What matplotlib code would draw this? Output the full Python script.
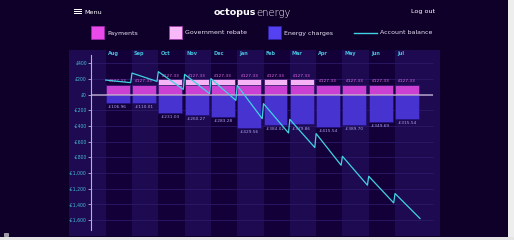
import matplotlib
matplotlib.use("Agg")
import matplotlib.pyplot as plt
from matplotlib.patches import Rectangle
from matplotlib.lines import Line2D

# data
months = ['Aug', 'Sep', 'Oct', 'Nov', 'Dec', 'Jan', 'Feb', 'Mar', 'Apr', 'May', 'Jun', 'Jul']
payments = [127.33] * 12
rebate = [0, 0, 66, 66, 66, 66, 66, 67, 0, 0, 0, 0]
charges = [-106.96, -110.01, -231.03, -260.27, -283.28, -429.56, -384.02, -379.86,
           -415.54, -389.70, -349.69, -315.54]
balance_open = [186, 275, 293, 259, 204, 118, -115, -315, -497, -786, -1041, -1261]
balance_close = [153, 169, 67, 13, -73, -306, -489, -675, -901, -1155, -1381, -1580]
yticks = [400, 200, 0, -200, -400, -600, -800, -1000, -1200, -1400, -1600]

BG = '#0f0029'
DARK = '#140039'
LIGHT = '#1d0a50'
C_PAY = '#c940d2'
C_REB = '#f6b4f6'
C_CHG = '#4633d0'
C_BAL = '#3fd2e2'
C_TEAL = '#45bcd8'

W, H = 514, 240
fig = plt.figure(figsize=(W / 100, H / 100), dpi=100, facecolor=BG)

def fx(px):
    return px / W

def fy(py):
    return 1 - py / H

# header
fig.text(fx(84), fy(12), 'Menu', color='white', fontsize=4.6, va='center', ha='left')
for k in range(3):
    fig.add_artist(Rectangle((fx(74), fy(10.2 + k * 1.8)), fx(7.5), 1.1 / H,
                             transform=fig.transFigure, color='white', lw=0))
fig.text(fx(256), fy(12.5), 'octopus', color='white', fontsize=6.8, fontweight='bold',
         va='center', ha='right')
fig.text(fx(256.5), fy(12.5), 'energy', color='white', fontsize=7.2, fontweight='light',
         va='center', ha='left')
fig.text(fx(435), fy(12), 'Log out', color='white', fontsize=4.6, va='center', ha='right')

# legend
leg = [('Payments', '#e94ae9', '#9a2aa8', 91),
       ('Government rebate', '#f9b9f9', '#a03ca8', 169),
       ('Energy charges', '#5442f2', '#3020a0', 268)]
for name, col, edge, x0 in leg:
    fig.add_artist(Rectangle((fx(x0), fy(39)), fx(13), 13 / H, transform=fig.transFigure,
                             facecolor=col, edgecolor=edge, lw=0.6))
    fig.text(fx(x0 + 16), fy(33), name, color='#e8e4f4', fontsize=4.5, va='center')
fig.add_artist(Line2D([fx(354), fx(377)], [fy(33), fy(33)], transform=fig.transFigure,
                      color=C_BAL, lw=1.0))
fig.text(fx(380), fy(33), 'Account balance', color='#e8e4f4', fontsize=4.5, va='center')

# chart panel
ax = fig.add_axes([fx(69), fy(236), fx(440 - 69), (236 - 50) / H])
ax.set_facecolor(LIGHT)
x_lo, x_hi = -1.395, 12.71
ax.set_xlim(x_lo, x_hi)
ax.set_ylim(-1803, 569.5)
for i in range(0, 12, 2):
    ax.axvspan(i, i + 1, color=DARK, lw=0, zorder=0)

ax_left = -0.559
ax_right = 12.44
ax.hlines(yticks, ax_left, ax_right, color='#2c1a6a', lw=0.6, zorder=1)

w = 0.91
xs = list(range(12))
ax.bar(xs, payments, width=w, align='edge', color=C_PAY, edgecolor='#3a1470', lw=0.5, zorder=2)
ax.bar(xs, rebate, width=w, bottom=payments, align='edge', color=C_REB, edgecolor='#3a1470',
       lw=0.5, zorder=2)
ax.bar(xs, charges, width=w, align='edge', color=C_CHG, edgecolor='#22107a', lw=0.5, zorder=2)

ax.hlines(0, ax_left, ax_right, color='#c8b8d8', alpha=0.75, lw=1.3, zorder=3)

for i in xs:
    top = payments[i] + rebate[i]
    ax.annotate('£%.2f' % payments[i], (i + w / 2, top), xytext=(0, 1.3),
                textcoords='offset points', ha='center', va='bottom', fontsize=3.1,
                color='#e46ae6', zorder=4)
    ax.annotate('-£%.2f' % -charges[i], (i + w / 2, charges[i]), xytext=(0, -1.5),
                textcoords='offset points', ha='center', va='top', fontsize=3.1,
                color='#aaa2ee', zorder=4)
    ax.text(i + 0.08, 520, months[i], color=C_TEAL, fontsize=3.6, fontweight='bold',
            ha='left', va='center', zorder=4)

# account balance line
bx, by = [], []
for i in xs:
    bx += [i, i + 0.95]
    by += [balance_open[i], balance_close[i]]
ax.plot(bx, by, color=C_BAL, lw=0.9, zorder=5)

# axis
for s in ['top', 'right', 'bottom']:
    ax.spines[s].set_visible(False)
ax.spines['left'].set_position(('data', ax_left))
ax.spines['left'].set_bounds(-1726, 502)
ax.spines['left'].set_color('#b8b0d8')
ax.spines['left'].set_linewidth(0.8)
ax.set_xticks([])
ax.set_yticks(yticks)
ax.set_yticklabels([('-£' if v < 0 else '£') + format(abs(v), ',') for v in yticks])
ax.tick_params(axis='y', colors='#b8b0d8', labelcolor=C_TEAL, length=2, width=0.6,
               labelsize=3.3, pad=1)

# browser bits
fig.add_artist(Rectangle((fx(508), 0), fx(6), 1, transform=fig.transFigure,
                         color='#eeeeee', lw=0))
fig.add_artist(Rectangle((0, 0), 1, 3 / H, transform=fig.transFigure,
                         color='#e6e6e6', lw=0))
fig.add_artist(Rectangle((fx(4), fy(236)), fx(4), 3 / H, transform=fig.transFigure,
                         facecolor='#9a9aa8', edgecolor='#dddddd', lw=0.4))

fig.savefig('out.png', dpi=100, facecolor=BG)
